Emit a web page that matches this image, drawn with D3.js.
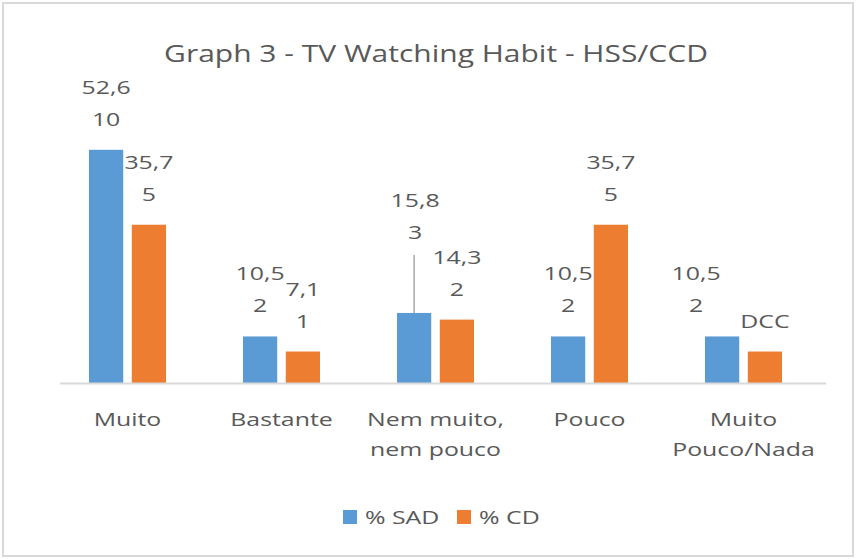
<!DOCTYPE html>
<html>
<head>
<meta charset="utf-8">
<script src="https://cdn.jsdelivr.net/npm/d3@7"></script>
<style>
  html, body { margin: 0; padding: 0; background: #fff; }
  svg text { font-family: 'Open Sans', sans-serif; fill: #595959; }
</style>
</head>
<body>
<svg id="chart"></svg>
<script>
const d3 = window.d3

// chart data
const categories = [['Muito'], ['Bastante'], ['Nem muito,', 'nem pouco'], ['Pouco'], ['Muito', 'Pouco/Nada']]
const series = ['% SAD', '% CD']
const sadValues = [52.6, 10.5, 15.8, 10.5, 10.5]
const cdValues = [35.7, 7.1, 14.3, 35.7, 7.1]
const sadLabels = [['52,6', '10'], ['10,5', '2'], ['15,8', '3'], ['10,5', '2'], ['10,5', '2']]
const cdLabels = [['35,7', '5'], ['7,1', '1'], ['14,3', '2'], ['35,7', '5'], ['DCC']]
const colors = ['#5B9BD5', '#ED7D31']

// labels that were dragged by hand in the original (pixels)
const labelShift = { 'SAD-2': { dx: 1, dy: -50, leader: true }, 'SAD-4': { dx: -26, dy: 0 } }

const width = 856
const height = 559
const margin = { top: 117, right: 35, bottom: 176, left: 50 }
const stretch = 1.38 // the original picture is wider than it is tall

const svg = d3.select('#chart').attr('width', width).attr('height', height)

// text placed at (x, y) and widened sideways like the original
function addText (parent, x, y, t, size, sx, anchor) {
  return parent.append('text')
    .attr('transform', `translate(${x},${y}) scale(${sx},1)`)
    .attr('text-anchor', anchor || 'middle')
    .attr('font-size', size)
    .text(t)
}

// outer frame
svg.append('rect')
  .attr('x', 3).attr('y', 3)
  .attr('width', width - 6).attr('height', height - 6)
  .attr('fill', '#fff').attr('stroke', '#d9d9d9').attr('stroke-width', 2)

addText(svg, 436, 62, 'Graph 3 - TV Watching Habit - HSS/CCD', 24, 1.25)

const x0 = d3.scaleBand()
  .domain(d3.range(categories.length))
  .range([margin.left + 0.5, width - margin.right - 0.5])
  .paddingInner(0.5).paddingOuter(0.25)

const x1 = d3.scaleBand()
  .domain(series)
  .range([0, x0.bandwidth()])
  .paddingInner(0.2)

const y = d3.scaleLinear()
  .domain([0, 60])
  .range([height - margin.bottom, margin.top])

const rows = categories.map((c, i) => ({
  i,
  bars: [
    { key: 'SAD', s: series[0], v: sadValues[i], label: sadLabels[i], color: colors[0] },
    { key: 'CD', s: series[1], v: cdValues[i], label: cdLabels[i], color: colors[1] }
  ]
}))

const groups = svg.selectAll('g.cat')
  .data(rows)
  .join('g')
  .attr('class', 'cat')
  .attr('transform', d => `translate(${x0(d.i)},0)`)

groups.selectAll('rect')
  .data(d => d.bars)
  .join('rect')
  .attr('x', d => x1(d.s))
  .attr('y', d => y(d.v))
  .attr('width', x1.bandwidth())
  .attr('height', d => y(0) - y(d.v))
  .attr('fill', d => d.color)

// data labels, two lines each
const lineGap = 32
groups.each(function (row) {
  const g = d3.select(this)
  row.bars.forEach(b => {
    const shift = labelShift[`${b.key}-${row.i}`] || { dx: 0, dy: 0 }
    const cx = x1(b.s) + x1.bandwidth() / 2
    const bottom = y(b.v) - 24 + shift.dy
    if (shift.leader) {
      g.append('line')
        .attr('x1', cx).attr('x2', cx)
        .attr('y1', bottom + 16).attr('y2', y(b.v))
        .attr('stroke', '#a6a6a6').attr('stroke-width', 1.5)
    }
    const n = b.label.length
    b.label.forEach((t, k) => {
      addText(g, cx + shift.dx, bottom - (n - 1 - k) * lineGap, t, 18, stretch)
    })
  })
})

// category axis
svg.append('line')
  .attr('x1', 60).attr('x2', 826)
  .attr('y1', y(0) + 0.5).attr('y2', y(0) + 0.5)
  .attr('stroke', '#d9d9d9').attr('stroke-width', 2)

groups.each(function (row) {
  const g = d3.select(this)
  categories[row.i].forEach((t, k) => {
    addText(g, x0.bandwidth() / 2, y(0) + 43 + k * 30, t, 18, stretch)
  })
})

// legend
const legend = svg.append('g').attr('transform', 'translate(343,510)')
const items = legend.selectAll('g')
  .data(series)
  .join('g')
  .attr('transform', (d, i) => `translate(${i * 114},0)`)
items.append('rect')
  .attr('width', 14).attr('height', 14)
  .attr('fill', (d, i) => colors[i])
items.each(function (d) {
  addText(d3.select(this), 22, 14, d, 18, stretch, 'start')
})
</script>
</body>
</html>
